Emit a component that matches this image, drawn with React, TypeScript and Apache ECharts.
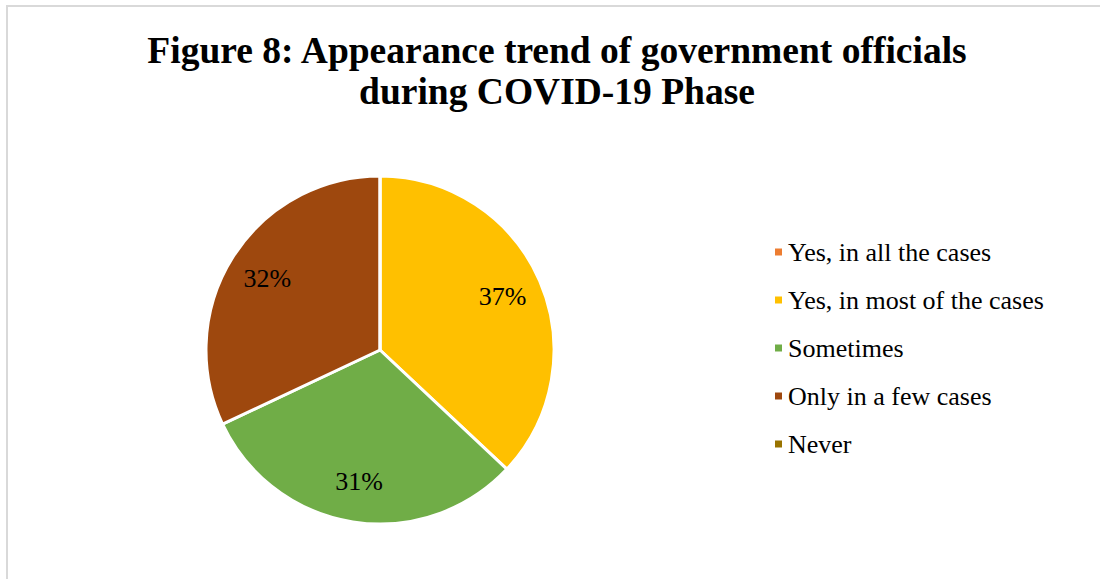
import React, { useEffect, useRef } from "react";
import * as echarts from "echarts";

const titleText = "Figure 8: Appearance trend of government officials\nduring COVID-19 Phase";
const categories = [
  "Yes, in all the cases",
  "Yes, in most of the cases",
  "Sometimes",
  "Only in a few cases",
  "Never",
];
const values = [0, 37, 31, 32, 0];
const colors = ["#ED7D31", "#FFC000", "#70AD47", "#9E480E", "#997300"];

const SERIF = "Liberation Serif";

function buildOption() {
  const data = categories.map((name, i) => ({ name, value: values[i] }));
  return {
    animation: false,
    backgroundColor: "#ffffff",
    color: colors,
    graphic: [
      {
        type: "rect",
        shape: { x: 7, y: 6, width: 1200, height: 700 },
        style: { fill: "none", stroke: "#d9d9d9", lineWidth: 2 },
        silent: true,
        z: -1,
      },
      {
        type: "text",
        x: 557,
        y: 30,
        style: {
          text: titleText,
          fontFamily: SERIF,
          fontSize: 37.5,
          fontWeight: "bold",
          lineHeight: 41,
          fill: "#000",
          align: "center",
          verticalAlign: "top",
        },
      },
    ],
    legend: {
      orient: "vertical",
      left: 768,
      top: 234,
      itemWidth: 9,
      itemHeight: 9,
      itemGap: 22,
      icon: "rect",
      data: categories,
      textStyle: {
        fontFamily: SERIF,
        fontSize: 26,
        fontWeight: "normal",
        color: "#000",
      },
      selectedMode: false,
    },
    series: [
      {
        type: "pie",
        name: "main",
        center: [380, 350],
        radius: 174,
        startAngle: 90,
        clockwise: true,
        data,
        label: { show: false },
        labelLine: { show: false },
        itemStyle: { borderColor: "#ffffff", borderWidth: 3 },
        emphasis: { disabled: true },
      },
      {
        type: "pie",
        name: "labels",
        center: [380, 350],
        radius: [87, 174],
        startAngle: 90,
        clockwise: true,
        silent: true,
        data,
        itemStyle: { color: "transparent", borderWidth: 0 },
        label: {
          show: true,
          position: "inside",
          fontFamily: SERIF,
          fontSize: 26,
          fontWeight: "normal",
          color: "#000",
          formatter: (p: any) => (p.value > 0 ? `${p.percent}%` : ""),
        },
        labelLine: { show: false },
        emphasis: { disabled: true },
      },
    ],
  };
}

export default function App() {
  const ref = useRef<HTMLDivElement>(null);
  useEffect(() => {
    if (!ref.current) return;
    const chart = echarts.init(ref.current, undefined, { renderer: "svg" });
    chart.setOption(buildOption());
    let cancelled = false;
    const redraw = () => {
      if (cancelled) return;
      chart.clear();
      chart.setOption(buildOption());
    };
    const fonts: any = (document as any).fonts;
    if (fonts && fonts.load) {
      Promise.all([
        fonts.load(`26px "${SERIF}"`),
        fonts.load(`bold 37.5px "${SERIF}"`),
      ])
        .then(() => requestAnimationFrame(redraw))
        .catch(() => {});
    }
    const t = setTimeout(redraw, 50);
    return () => {
      cancelled = true;
      clearTimeout(t);
      chart.dispose();
    };
  }, []);
  return (
    <div
      style={{
        position: "absolute",
        left: 0,
        top: 0,
        width: 1100,
        height: 579,
        fontFamily: SERIF,
      }}
    >
      <div ref={ref} style={{ width: 1100, height: 579 }} />
    </div>
  );
}
